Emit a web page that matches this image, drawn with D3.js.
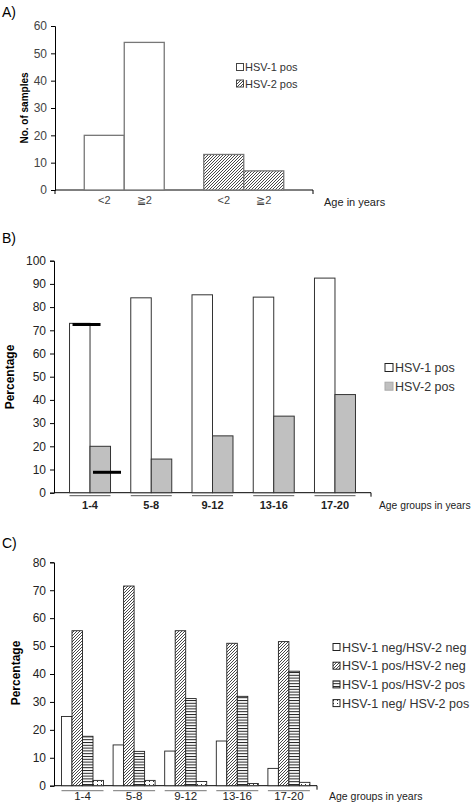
<!DOCTYPE html>
<html><head><meta charset="utf-8">
<script src="https://cdn.jsdelivr.net/npm/d3@7"></script>
<style>body{margin:0;background:#fff}svg{display:block;font-family:"Liberation Sans",Arial,sans-serif}</style>
</head><body><svg id="c" width="475" height="802"></svg>
<script>
// ---- Data ----
const aGroups = ["HSV-1 pos", "HSV-2 pos"];
const aAges = ["<2", "≧2"];
const aHSV1 = [20, 54];
const aHSV2 = [13, 7];
const aTicks = [0, 10, 20, 30, 40, 50, 60];

const bGroups = ["1-4", "5-8", "9-12", "13-16", "17-20"];
const bSeries = ["HSV-1 pos", "HSV-2 pos"];
const bHSV1 = [73, 84, 85.3, 84.3, 92.5];
const bHSV2 = [20, 14.5, 24.5, 33, 42.3];
const bMarks = [72.5, 8.8]; // black reference bars in group 1-4
const bTicks = [0, 10, 20, 30, 40, 50, 60, 70, 80, 90, 100];

const cGroups = ["1-4", "5-8", "9-12", "13-16", "17-20"];
const cSeries = ["HSV-1 neg/HSV-2 neg", "HSV-1 pos/HSV-2 neg", "HSV-1 pos/HSV-2 pos", "HSV-1 neg/ HSV-2 pos"];
const cNegNeg = [24.8, 14.6, 12.4, 16, 6.2];
const cPosNeg = [55.5, 71.5, 55.5, 51, 51.6];
const cPosPos = [17.7, 12.3, 31.2, 32, 41];
const cNegPos = [1.9, 1.9, 1.5, 0.8, 1.2];
const cTicks = [0, 10, 20, 30, 40, 50, 60, 70, 80];

const svg = d3.select("#c");
const defs = svg.append("defs");
// diagonal hatch
const ph = defs.append("pattern").attr("id","hatch").attr("patternUnits","userSpaceOnUse").attr("width",3).attr("height",3);
ph.append("rect").attr("width",3).attr("height",3).attr("fill","#fff");
ph.append("path").attr("d","M-1,1 l2,-2 M0,3 l3,-3 M2,4 l2,-2").attr("stroke","#333").attr("stroke-width",0.9);
// horizontal stripes
const ps = defs.append("pattern").attr("id","hstripe").attr("patternUnits","userSpaceOnUse").attr("width",4).attr("height",2.8);
ps.append("rect").attr("width",4).attr("height",2.8).attr("fill","#fff");
ps.append("rect").attr("y",0).attr("width",4).attr("height",1).attr("fill","#222");
// dots
const pd = defs.append("pattern").attr("id","dots").attr("patternUnits","userSpaceOnUse").attr("width",4).attr("height",3);
pd.append("rect").attr("width",4).attr("height",3).attr("fill","#fff");
pd.append("rect").attr("x",1).attr("y",1).attr("width",1).attr("height",1).attr("fill","#333");

function yAxis(y, ticks, x0, color) {
  const g = svg.append("g").attr("transform", `translate(${x0},0)`)
    .call(d3.axisLeft(y).tickValues(ticks).tickSize(4).tickPadding(4));
  g.select(".domain").attr("stroke","#000");
  g.selectAll(".tick line").attr("stroke","#000");
  g.selectAll("text").attr("font-size",12).attr("fill",color).attr("font-family","Liberation Sans, Arial, sans-serif");
  return g;
}

// ---- Panel A ----
{
  const y = d3.scaleLinear().domain([0, 60]).range([190, 26]);
  const x0 = d3.scaleBand().domain(aGroups).range([64.5, 303.5]);
  const x1 = d3.scaleBand().domain(aAges).range([0, x0.bandwidth()]).paddingOuter(0.494);
  svg.append("text").attr("x",2).attr("y",17).attr("font-size",14).text("A)");
  yAxis(y, aTicks, 55, "#444");
  svg.append("line").attr("x1",55).attr("x2",313).attr("y1",y(0)).attr("y2",y(0)).attr("stroke","#000");
  [55, 313].forEach(v => svg.append("line").attr("x1",v).attr("x2",v).attr("y1",y(0)).attr("y2",y(0)+4).attr("stroke","#000"));
  const data = [aHSV1, aHSV2];
  aGroups.forEach((gname, gi) => {
    aAges.forEach((a, ai) => {
      const v = data[gi][ai];
      svg.append("rect").attr("x", x0(gname) + x1(a)).attr("y", y(v))
        .attr("width", x1.bandwidth()).attr("height", y(0) - y(v))
        .attr("fill", gi === 0 ? "#fff" : "url(#hatch)").attr("stroke","#777").attr("stroke-width",1.3);
      svg.append("text").attr("x", x0(gname) + x1(a) + x1.bandwidth()/2).attr("y", 204)
        .attr("text-anchor","middle").attr("font-size",11).attr("fill","#444").text(a);
    });
  });
  svg.append("text").attr("x",324).attr("y",206).attr("font-size",11).attr("fill","#222").text("Age in years");
  svg.append("text").attr("transform","translate(28,108) rotate(-90)").attr("text-anchor","middle")
    .attr("font-size",10).attr("font-weight","bold").text("No. of samples");
  aGroups.forEach((s, i) => {
    const ly = 67 + i * 16.5;
    svg.append("rect").attr("x",236.5).attr("y",ly-3.5).attr("width",7).attr("height",7)
      .attr("fill", i === 0 ? "#fff" : "url(#hatch)").attr("stroke","#444");
    svg.append("text").attr("x",245).attr("y",ly+4).attr("font-size",11).attr("fill","#333").text(s);
  });
}

// ---- Panel B ----
{
  const y = d3.scaleLinear().domain([0, 100]).range([492.7, 260.7]);
  const x0 = d3.scaleBand().domain(bGroups).range([59.4, 365.6]);
  const x1 = d3.scaleBand().domain(bSeries).range([0, x0.bandwidth()]).paddingOuter(0.494);
  svg.append("text").attr("x",2).attr("y",243).attr("font-size",14).text("B)");
  yAxis(y, bTicks, 54, "#222");
  svg.append("line").attr("x1",54).attr("x2",371).attr("y1",y(0)).attr("y2",y(0)).attr("stroke","#000");
  svg.append("line").attr("x1",371).attr("x2",371).attr("y1",y(0)).attr("y2",y(0)+4).attr("stroke","#000");
  const data = [bHSV1, bHSV2];
  bGroups.forEach((gname, gi) => {
    bSeries.forEach((s, si) => {
      const v = data[si][gi];
      svg.append("rect").attr("x", x0(gname) + x1(s)).attr("y", y(v))
        .attr("width", x1.bandwidth()).attr("height", y(0) - y(v))
        .attr("fill", si === 0 ? "#fff" : "#c0c0c0").attr("stroke","#333").attr("stroke-width",1);
    });
    const cx = x0(gname) + x0.bandwidth()/2;
    svg.append("line").attr("x1", x0(gname) + x1(bSeries[0])).attr("x2", x0(gname) + x1(bSeries[1]) + x1.bandwidth())
      .attr("y1", y(0)+3).attr("y2", y(0)+3).attr("stroke","#555");
    svg.append("text").attr("x", cx).attr("y", 509).attr("text-anchor","middle")
      .attr("font-size",11).attr("font-weight","bold").attr("fill","#222").text(gname);
  });
  // black reference marks in 1-4 group
  const g = bGroups[0];
  bMarks.forEach((m, i) => {
    const xs = x0(g) + x1(bSeries[i]) + 3;
    svg.append("line").attr("x1", xs).attr("x2", xs + 28).attr("y1", y(m)).attr("y2", y(m))
      .attr("stroke","#000").attr("stroke-width",3);
  });
  svg.append("text").attr("x",379).attr("y",509).attr("font-size",10.3).attr("fill","#222").text("Age groups in years");
  svg.append("text").attr("transform","translate(14,377) rotate(-90)").attr("text-anchor","middle")
    .attr("font-size",12).attr("font-weight","bold").text("Percentage");
  bSeries.forEach((s, i) => {
    const ly = 367.5 + i * 18.7;
    svg.append("rect").attr("x",385).attr("y",ly-4).attr("width",8).attr("height",8)
      .attr("fill", i === 0 ? "#fff" : "#c0c0c0").attr("stroke", i === 0 ? "#222" : "#aaa");
    svg.append("text").attr("x",395).attr("y",ly+4.5).attr("font-size",12.5).attr("fill","#333").text(s);
  });
}

// ---- Panel C ----
{
  const y = d3.scaleLinear().domain([0, 80]).range([785.7, 562.3]);
  const x0 = d3.scaleBand().domain(cGroups).range([56.7, 314.7]);
  const x1 = d3.scaleBand().domain(cSeries).range([0, x0.bandwidth()]).paddingOuter(0.457);
  const fills = ["#fff", "url(#hatch)", "url(#hstripe)", "url(#dots)"];
  svg.append("text").attr("x",2).attr("y",548).attr("font-size",14).text("C)");
  yAxis(y, cTicks, 54, "#222");
  svg.append("line").attr("x1",54).attr("x2",317).attr("y1",y(0)).attr("y2",y(0)).attr("stroke","#000");
  svg.append("line").attr("x1",317).attr("x2",317).attr("y1",y(0)).attr("y2",y(0)+4).attr("stroke","#000");
  const data = [cNegNeg, cPosNeg, cPosPos, cNegPos];
  cGroups.forEach((gname, gi) => {
    cSeries.forEach((s, si) => {
      const v = data[si][gi];
      svg.append("rect").attr("x", x0(gname) + x1(s)).attr("y", y(v))
        .attr("width", x1.bandwidth()).attr("height", y(0) - y(v))
        .attr("fill", fills[si]).attr("stroke","#222").attr("stroke-width",0.9);
    });
    svg.append("line").attr("x1", x0(gname) + x1(cSeries[0])).attr("x2", x0(gname) + x1(cSeries[3]) + x1.bandwidth())
      .attr("y1", y(0)+5).attr("y2", y(0)+5).attr("stroke","#777");
    svg.append("text").attr("x", x0(gname) + x0.bandwidth()/2).attr("y", 800).attr("text-anchor","middle")
      .attr("font-size",11.5).attr("fill","#222").text(gname);
  });
  svg.append("text").attr("x",329).attr("y",800).attr("font-size",10.5).attr("fill","#222").text("Age groups in years");
  svg.append("text").attr("transform","translate(20,673) rotate(-90)").attr("text-anchor","middle")
    .attr("font-size",12).attr("font-weight","bold").text("Percentage");
  cSeries.forEach((s, i) => {
    const ly = 647 + i * 18.7;
    svg.append("rect").attr("x",333).attr("y",ly-3.5).attr("width",7).attr("height",7)
      .attr("fill", fills[i]).attr("stroke","#222");
    svg.append("text").attr("x",342).attr("y",ly+4.5).attr("font-size",12.5).attr("fill","#333").text(s);
  });
}
</script></body></html>
